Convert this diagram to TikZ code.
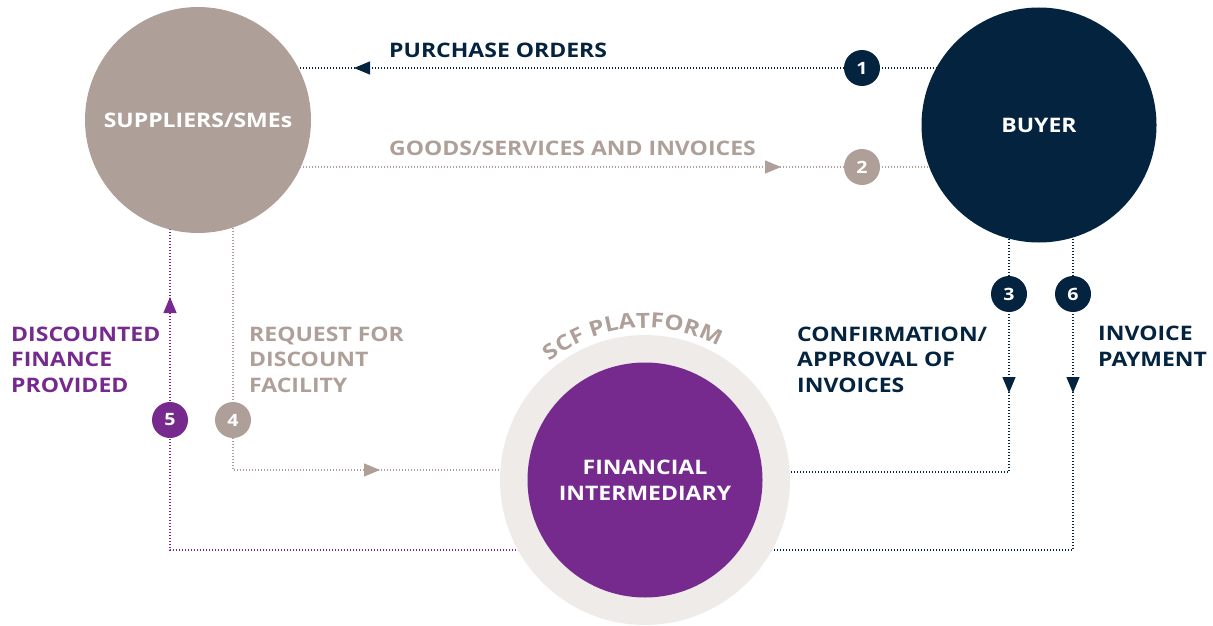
\documentclass[tikz,border=0pt]{standalone}
\usepackage{fontspec}
\setmainfont{Open Sans}[FakeStretch=1.15]
\usetikzlibrary{arrows.meta,decorations.markings,decorations.text,calc}
\definecolor{navy}{HTML}{03233F}
\definecolor{taupe}{HTML}{AEA099}
\definecolor{purp}{HTML}{772A8E}
\definecolor{ringc}{HTML}{EFEBE9}
\pgfdeclarelayer{bg}
\pgfsetlayers{bg,main}
\begin{document}
\begin{tikzpicture}[x=1pt,y=-1pt,
  big/.style={circle,minimum size=#1,inner sep=0pt,text=white,align=center,
    font=\bfseries\fontsize{20}{25}\selectfont},
  badge/.style={circle,fill=#1,minimum size=36pt,inner sep=0pt,text=white,
    font=\bfseries\fontsize{17}{18}\selectfont},
  lbl/.style={anchor=base west,align=left,inner sep=0pt,text=#1,
    font=\bfseries\fontsize{20}{25.5}\selectfont},
  flow/.style={draw=#1,line width=1.2pt,dash pattern=on 1.2pt off 1.8pt},
  tipat/.style={postaction={decorate},decoration={markings,
    mark=at position #1 with {\arrow{Triangle[length=16pt,width=13pt]}}}},
]
\useasboundingbox (0,0) rectangle (1213,626);
% main circles
\node[big=226pt,fill=taupe] (sup) at (198,120) {SUPPLIERS/SMEs};
\node[big=235pt,fill=navy] (buy) at (1039,125) {BUYER};
\node[circle,fill=ringc,minimum size=290pt,inner sep=0pt] (ring) at (645,480) {};
\node[big=235pt,fill=purp,font=\bfseries\fontsize{20}{26}\selectfont] (fin) at (645,480) {FINANCIAL\\INTERMEDIARY};
% curved label
\path[decorate,decoration={text along path,text align=center,
  text={|\color{taupe}\bfseries\fontsize{21}{21}\selectfont|SCF PLATFORM}}]
  ($(ring.center)+(-135:152)$) arc[start angle=-135,end angle=-55,radius=152];
% badges
\node[badge=navy] (b1) at (862,68) {1};
\node[badge=taupe] (b2) at (862,167) {2};
\node[badge=navy] (b3) at (1009,294) {3};
\node[badge=navy] (b6) at (1073,294) {6};
\node[badge=taupe] (b4) at (233,420) {4};
\node[badge=purp] (b5) at (170,420) {5};
% corners
\coordinate (k3) at (1009,472);
\coordinate (k6) at (1073,550);
\coordinate (k4) at (233,470);
\coordinate (k5) at (170,550);
% connectors
\begin{pgfonlayer}{bg}
\draw[flow=navy,tipat=685pt] (b1 -| buy.center) -- (b1 -| sup.center);
\draw[flow=taupe,tipat=583pt] (b2 -| sup.center) -- (b2 -| buy.center);
\draw[flow=navy,tipat=268pt] (b3 |- buy.center) -- (k3) -- (k3 -| ring.center);
\draw[flow=navy,tipat=268pt] (b6 |- buy.center) -- (k6) -- (k6 -| ring.center);
\draw[flow=taupe,tipat=497pt] (b4 |- sup.center) -- (k4) -- (k4 -| ring.center);
\draw[flow=purp,tipat=728pt] (k5 -| ring.center) -- (k5) -- (b5 |- sup.center);
\end{pgfonlayer}
% labels (anchor = baseline of last line)
\node[lbl=navy] (lpo) at (389,58) {PURCHASE ORDERS};
\node[lbl=taupe] (lgs) at (389,155) {GOODS/SERVICES AND INVOICES};
\node[lbl=purp] (ldf) at (11,392) {DISCOUNTED\\FINANCE\\PROVIDED};
\node[lbl=taupe] (lrq) at (249,392) {REQUEST FOR\\DISCOUNT\\FACILITY};
\node[lbl=navy] (lcf) at (797,392) {CONFIRMATION/\\APPROVAL OF\\INVOICES};
\node[lbl=navy] (lip) at (1098,366) {INVOICE\\PAYMENT};
\end{tikzpicture}
\end{document}
